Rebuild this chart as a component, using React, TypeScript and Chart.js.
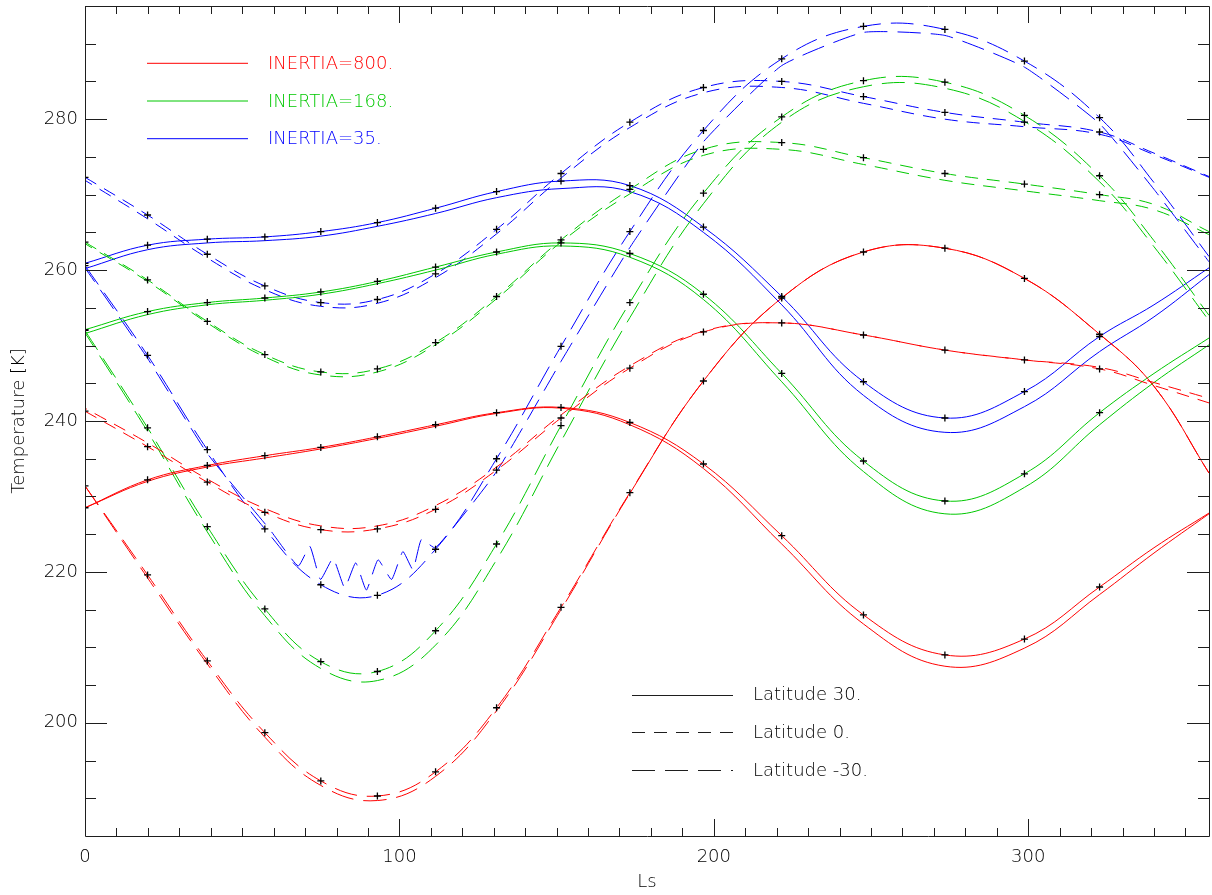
import { useEffect, useRef } from "react";
import { Chart, registerables } from "chart.js";

Chart.register(...registerables);

// Solar longitude (deg) of the sample points; the first 16 are the dates marked with "+"
const LS = [0, 19.9, 38.9, 57.2, 75.0, 93.0, 111.5, 130.9, 151.4, 173.3, 196.7, 221.6, 247.6, 273.5, 298.8, 322.7, 340, 357.5];
const MARKED = 16;

// Surface temperature (K): two runs (a, b) per thermal inertia and latitude
const I800_N30_A = [228.5, 232.2, 234.1, 235.4, 236.5, 237.9, 239.5, 241.1, 241.8, 239.8, 234.3, 224.8, 214.3, 209.0, 211.1, 218.0, 223.2, 227.8];
const I800_N30_B = [228.5, 232.0, 233.9, 235.1, 236.3, 237.7, 239.3, 241.0, 241.7, 239.5, 233.7, 223.7, 213.1, 207.5, 209.9, 217.0, 222.5, 227.7];
const I800_EQ_A = [241.3, 236.6, 231.9, 227.9, 225.6, 225.7, 228.3, 233.5, 240.4, 247.0, 251.8, 253.0, 251.4, 249.4, 248.1, 246.9, 244.7, 242.4];
const I800_EQ_B = [241.7, 237.1, 232.3, 228.4, 226.1, 226.1, 228.8, 233.9, 240.8, 247.3, 251.9, 253.0, 251.4, 249.4, 248.1, 247.1, 245.1, 243.0];
const I800_S30_A = [231.4, 219.6, 208.2, 198.7, 192.3, 190.3, 193.5, 202.0, 215.3, 230.5, 245.3, 256.3, 262.4, 262.9, 258.9, 251.5, 244.6, 233.1];
const I800_S30_B = [231.4, 219.2, 207.8, 198.1, 191.7, 189.7, 192.9, 201.6, 215.0, 230.4, 245.3, 256.3, 262.4, 262.9, 258.9, 251.5, 244.6, 233.1];

const I168_N30_A = [252.1, 254.5, 255.7, 256.3, 257.1, 258.5, 260.4, 262.4, 263.6, 262.2, 256.8, 246.3, 234.7, 229.4, 233.0, 241.1, 246.3, 251.0];
const I168_N30_B = [251.6, 254.1, 255.4, 256.0, 256.8, 258.2, 260.0, 262.1, 263.2, 261.7, 256.1, 245.2, 233.3, 227.7, 231.2, 239.5, 245.1, 250.1];
const I168_EQ_A = [263.7, 258.7, 253.2, 248.8, 246.5, 246.9, 250.4, 256.5, 264.0, 270.7, 276.0, 276.9, 274.9, 272.8, 271.4, 270.0, 268.7, 265.1];
const I168_EQ_B = [263.5, 258.5, 253.0, 248.5, 246.1, 246.5, 250.1, 256.2, 263.7, 270.1, 275.2, 276.0, 274.0, 271.9, 270.5, 269.2, 268.0, 264.7];
const I168_S30_A = [252.0, 239.1, 226.0, 215.1, 208.1, 206.8, 212.2, 223.7, 239.4, 255.7, 270.2, 280.3, 285.1, 284.9, 280.5, 272.5, 263.9, 254.0];
const I168_S30_B = [251.7, 238.6, 225.3, 214.2, 207.2, 205.6, 210.3, 221.6, 237.3, 253.7, 268.8, 279.6, 284.3, 284.1, 279.7, 271.7, 263.1, 253.3];

const I35_N30_A = [260.9, 263.3, 264.1, 264.4, 265.1, 266.3, 268.2, 270.4, 271.8, 271.2, 265.7, 256.5, 245.2, 240.4, 243.9, 251.2, 255.4, 260.3];
const I35_N30_B = [260.2, 262.7, 263.6, 263.9, 264.5, 265.8, 267.5, 269.6, 270.8, 270.4, 265.0, 255.4, 243.4, 238.5, 241.9, 249.2, 253.8, 259.4];
const I35_EQ_A = [272.3, 267.3, 262.1, 257.9, 255.7, 256.1, 259.5, 265.4, 272.8, 279.6, 284.2, 285.0, 283.0, 280.9, 279.6, 278.3, 275.5, 272.4];
const I35_EQ_B = [271.9, 266.8, 261.6, 257.4, 255.2, 255.6, 259.0, 264.8, 272.2, 278.9, 283.5, 284.2, 282.1, 280.0, 279.0, 278.0, 275.3, 272.3];
const I35_S30_A = [260.6, 248.7, 236.2, 225.7, 218.3, 216.9, 223.0, 235.0, 249.9, 265.1, 278.5, 288.0, 292.3, 291.9, 287.7, 280.2, 271.6, 261.8];
// run b at 30S, low inertia: finer sampling through the oscillating stretch near aphelion
const I35_S30_B_LS = [0, 19.9, 38.9, 58.8, 67.8, 71.5, 74.9, 78.9, 82.6, 86.1, 89.5, 93.2, 97.5, 101.1, 104.3, 107.0, 111.5, 130.9, 151.4, 173.3, 196.7, 221.6, 247.6, 273.5, 298.8, 322.7, 340, 357.5];
const I35_S30_B = [260.3, 248.3, 235.7, 225.6, 220.8, 223.4, 219.0, 221.8, 217.9, 221.2, 217.6, 221.6, 219.0, 222.7, 220.3, 224.3, 223.2, 233.3, 247.9, 263.0, 277.0, 287.1, 291.5, 291.1, 286.9, 279.4, 270.7, 261.1];

const X_TICKS = [0, 100, 200, 300];
const Y_TICKS = [200, 220, 240, 260, 280];
const X_MIN = 0, X_MAX = 357.5, Y_MIN = 185, Y_MAX = 295;

const INERTIA_LABELS = ["INERTIA=800.", "INERTIA=168.", "INERTIA=35."];
const LATITUDE_LABELS = ["Latitude 30.", "Latitude 0.", "Latitude -30."];

const RED = "#ff0000";
const GREEN = "#00c800";
const BLUE = "#0000ff";
const INK = "#1e1e1e";
const TEXT = "#000000";
const FONT = '"DejaVu Sans", sans-serif';
const WEIGHT = 300;

const SOLID: number[] = [];
const SHORT = [13, 9];
const LONG = [23, 10];
const LAT_DASHES = [SOLID, SHORT, LONG];
const INERTIA_COLORS = [RED, GREEN, BLUE];

type Run = {
  color: string;
  dash: number[];
  a: number[];
  b: number[];
  bLs?: number[];
  bOffset?: number;
  bSolidFrom?: number;
  bTension?: number;
};

const RUNS: Run[] = [
  { color: RED, dash: SOLID, a: I800_N30_A, b: I800_N30_B },
  { color: RED, dash: SHORT, a: I800_EQ_A, b: I800_EQ_B, bOffset: 11 },
  { color: RED, dash: LONG, a: I800_S30_A, b: I800_S30_B, bSolidFrom: 173 },
  { color: GREEN, dash: SOLID, a: I168_N30_A, b: I168_N30_B },
  { color: GREEN, dash: SHORT, a: I168_EQ_A, b: I168_EQ_B, bOffset: 5 },
  { color: GREEN, dash: LONG, a: I168_S30_A, b: I168_S30_B, bOffset: 6 },
  { color: BLUE, dash: SOLID, a: I35_N30_A, b: I35_N30_B },
  { color: BLUE, dash: SHORT, a: I35_EQ_A, b: I35_EQ_B, bOffset: 5 },
  { color: BLUE, dash: LONG, a: I35_S30_A, b: I35_S30_B, bLs: I35_S30_B_LS, bOffset: 6, bTension: 0.15 },
];

const pts = (xs: number[], ys: number[]) => xs.map((x, i) => ({ x, y: ys[i] }));

function buildDatasets() {
  const lines: any[] = [];
  const marks: any[] = [];
  RUNS.forEach((r, k) => {
    lines.push({
      label: `run a ${k}`,
      data: pts(LS, r.a),
      borderColor: r.color,
      borderWidth: 1,
      borderDash: r.dash,
      pointRadius: 0,
      tension: 0.4,
      fill: false,
      order: 2,
    });
    const solidFrom = r.bSolidFrom;
    lines.push({
      label: `run b ${k}`,
      data: pts(r.bLs ?? LS, r.b),
      borderColor: r.color,
      borderWidth: 1,
      borderDash: r.dash,
      borderDashOffset: r.bOffset ?? 0,
      pointRadius: 0,
      tension: r.bTension ?? 0.4,
      fill: false,
      order: 2,
      segment: solidFrom === undefined ? undefined : {
        borderDash: (ctx: any) => (ctx.p0.parsed.x >= solidFrom ? SOLID : undefined),
      },
    });
    marks.push({
      label: `dates ${k}`,
      data: pts(LS.slice(0, MARKED), r.a.slice(0, MARKED)),
      showLine: false,
      pointStyle: "cross",
      pointRadius: 3.5,
      pointBorderWidth: 1.3,
      pointBorderColor: "#000",
      pointBackgroundColor: "#000",
      order: 1,
    });
  });
  return [...lines, ...marks];
}

const framePlugin = {
  id: "frameAndKeys",
  afterDraw(chart: any) {
    const { ctx, chartArea: a, scales } = chart;
    const x = scales.x, y = scales.y;
    ctx.save();
    ctx.strokeStyle = INK;
    ctx.lineWidth = 1;
    ctx.setLineDash([]);
    ctx.beginPath();
    ctx.rect(a.left + 0.5, a.top + 0.5, a.right - a.left, a.bottom - a.top);
    for (let v = X_MIN; v <= X_MAX; v += 10) {
      const px = Math.round(x.getPixelForValue(v)) + 0.5;
      const len = v % 100 === 0 ? 17 : 8;
      ctx.moveTo(px, a.bottom);
      ctx.lineTo(px, a.bottom - len);
      ctx.moveTo(px, a.top);
      ctx.lineTo(px, a.top + len);
    }
    for (let v = 190; v < Y_MAX; v += 5) {
      const py = Math.round(y.getPixelForValue(v)) + 0.5;
      const len = v % 20 === 0 ? 22 : 11;
      ctx.moveTo(a.left, py);
      ctx.lineTo(a.left + len, py);
      ctx.moveTo(a.right, py);
      ctx.lineTo(a.right - len, py);
    }
    ctx.stroke();

    ctx.font = `${WEIGHT} 18px ${FONT}`;
    ctx.textBaseline = "middle";
    ctx.textAlign = "left";
    // thermal inertia key
    INERTIA_LABELS.forEach((t, i) => {
      const ly = 63.3 + i * 37.7;
      ctx.strokeStyle = INERTIA_COLORS[i];
      ctx.beginPath();
      ctx.moveTo(147, ly);
      ctx.lineTo(248, ly);
      ctx.stroke();
      ctx.fillStyle = INERTIA_COLORS[i];
      ctx.fillText(t, 268, ly + 1);
    });
    // latitude key
    LATITUDE_LABELS.forEach((t, i) => {
      const ly = 694.5 + i * 37.7;
      ctx.strokeStyle = INK;
      ctx.setLineDash(LAT_DASHES[i]);
      ctx.beginPath();
      ctx.moveTo(632, Math.round(ly) + 0.5);
      ctx.lineTo(733, Math.round(ly) + 0.5);
      ctx.stroke();
      ctx.setLineDash([]);
      ctx.fillStyle = TEXT;
      ctx.fillText(t, 753, ly + 1);
    });
    ctx.restore();
  },
};

export default function App() {
  const ref = useRef<HTMLCanvasElement | null>(null);

  useEffect(() => {
    if (!ref.current) return;
    const tickFont = { family: FONT, size: 18, weight: WEIGHT };
    const chart = new Chart(ref.current, {
      type: "line",
      data: { datasets: buildDatasets() },
      options: {
        responsive: false,
        animation: false,
        events: [],
        devicePixelRatio: 1,
        layout: { padding: { left: 0, right: 3, top: 6, bottom: 0 }, autoPadding: false },
        plugins: { legend: { display: false }, tooltip: { enabled: false } },
        scales: {
          x: {
            type: "linear",
            min: X_MIN,
            max: X_MAX,
            afterBuildTicks: (s: any) => {
              s.ticks = X_TICKS.map((value) => ({ value }));
            },
            afterFit: (s: any) => {
              s.height = 59;
              s.paddingLeft = 0;
              s.paddingRight = 0;
              s.paddingTop = 0;
              s.paddingBottom = 0;
            },
            grid: { display: false, drawTicks: false },
            border: { display: false },
            ticks: { color: TEXT, font: tickFont, padding: 11, maxRotation: 0, autoSkip: false },
            title: { display: true, text: "Ls", color: TEXT, font: tickFont, padding: { top: 0, bottom: 2 } },
          },
          y: {
            type: "linear",
            min: Y_MIN,
            max: Y_MAX,
            afterBuildTicks: (s: any) => {
              s.ticks = Y_TICKS.map((value) => ({ value }));
            },
            afterFit: (s: any) => {
              s.width = 85;
              s.paddingLeft = 0;
              s.paddingRight = 0;
              s.paddingTop = 0;
              s.paddingBottom = 0;
            },
            grid: { display: false, drawTicks: false },
            border: { display: false },
            ticks: { color: TEXT, font: tickFont, padding: 7 },
            title: { display: true, text: "Temperature [K]", color: TEXT, font: tickFont, padding: { top: 9, bottom: 0 } },
          },
        },
      },
      plugins: [framePlugin],
    } as any);
    return () => chart.destroy();
  }, []);

  return (
    <div style={{ position: "fixed", left: 0, top: 0, width: 1212, height: 895, background: "#fff" }}>
      <canvas ref={ref} width={1212} height={895} style={{ display: "block", width: 1212, height: 895 }} />
    </div>
  );
}
